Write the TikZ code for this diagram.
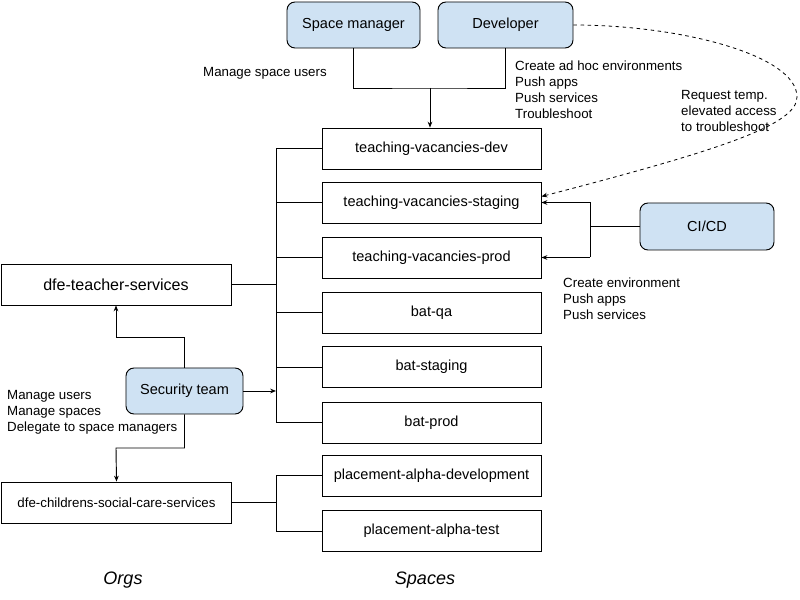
\documentclass[tikz,border=0pt]{standalone}
\usepackage{fontspec}
\setmainfont{Liberation Sans}
\usetikzlibrary{arrows.meta}
\definecolor{rolefill}{HTML}{CFE2F3}
\tikzset{
  box/.style={draw=black, line width=0.8pt, rectangle, inner sep=0pt,
    font=\fontsize{12.4}{14}\selectfont},
  spacebox/.style={box, minimum width=6.57cm, minimum height=1.23cm},
  orgbox/.style={box, minimum width=6.9cm, minimum height=1.23cm},
  rolebox/.style={box, fill=rolefill, rounded corners=0.24cm},
  note/.style={anchor=north west, inner sep=0pt, align=left,
    font=\fontsize{11.35}{13.5}\selectfont},
  caption/.style={font=\fontsize{15.4}{18}\selectfont\itshape},
  link/.style={line width=0.8pt},
  arrowlink/.style={link, -{Stealth[length=5pt,width=4pt]}},
}
\begin{document}
\begin{tikzpicture}[x=0.03cm, y=-0.03cm]
\useasboundingbox (0,0) rectangle (800,600);

% roles
\node[rolebox, minimum width=3.99cm, minimum height=1.38cm] (sm) at (353.5,25) {Space manager};
\node[rolebox, minimum width=4.05cm, minimum height=1.38cm] (dev) at (505.5,25) {Developer};
\node[rolebox, minimum width=3.51cm, minimum height=1.38cm] (sec) at (184.5,391) {Security team};
\node[rolebox, minimum width=4.02cm, minimum height=1.41cm] (ci) at (707,226.5) {CI/CD};

% spaces
\node[spacebox] (tvdev)  at (431.5,148.5) {teaching-vacancies-dev};
\node[spacebox] (tvstg)  at (431.5,202.5) {teaching-vacancies-staging};
\node[spacebox] (tvprod) at (431.5,257.5) {teaching-vacancies-prod};
\node[spacebox] (batqa)  at (431.5,312.5) {bat-qa};
\node[spacebox] (batstg) at (431.5,367)   {bat-staging};
\node[spacebox] (batprod) at (431.5,422.5) {bat-prod};
\node[spacebox] (pad) at (431.5,475.5) {placement-alpha-development};
\node[spacebox] (pat) at (431.5,531)   {placement-alpha-test};

% orgs
\node[orgbox, font=\fontsize{13.7}{16}\selectfont] (dts) at (116,284.5) {dfe-teacher-services};
\node[orgbox, font=\fontsize{11.35}{14}\selectfont] (csc) at (116.5,502.5) {dfe-childrens-social-care-services};

% captions
\node[caption] (orgs) at (123,580) {Orgs};
\node[caption] (spaces) at (425,580) {Spaces};

% notes
\node[note] (smnote) at (203,67) {Manage space users};
\node[note] (devnote) at (515,61) {Create ad hoc environments\\Push apps\\Push services\\Troubleshoot};
\node[note] (reqnote) at (681,90) {Request temp.\\elevated access\\to troubleshoot};
\node[note] (cinote) at (563,278) {Create environment\\Push apps\\Push services};
\node[note] (secnote) at (7,390) {Manage users\\Manage spaces\\Delegate to space managers};

% role access to the dev space
\coordinate (mj) at (430,88);
\draw[link] (sm.south) |- (mj) -| (dev.south);
\draw[arrowlink] (mj) -- (mj |- tvdev.north);

% org to space bus
\coordinate (bx) at (276,0);
\foreach \s in {tvdev,tvstg,tvprod,batqa,batstg,batprod}
  \draw[link] (\s.west) -- (\s.west -| bx);
\draw[link] (tvdev.west -| bx) -- (batprod.west -| bx);
\draw[link] (dts.east) -- (dts.east -| bx);
\draw[link] (csc.east) -- (csc.east -| bx);
\draw[link] (pad.west -| bx) -- (pat.west -| bx);
\draw[link] (pad.west) -- (pad.west -| bx);
\draw[link] (pat.west) -- (pat.west -| bx);

% security team
\coordinate (secup) at (116,337);
\coordinate (secdn) at (116,448);
\draw[arrowlink] (sec.east) -- (sec.east -| bx);
\draw[arrowlink] (sec.north) |- (secup) -- (dts.south);
\draw[arrowlink] (sec.south) |- (secdn) -- (csc.north);

% CI/CD
\coordinate (cx) at (590,0);
\draw[link] (ci.west) -- (ci.west -| cx);
\draw[link] (cx |- tvstg.east) -- (cx |- tvprod.east);
\draw[arrowlink] (cx |- tvstg.east) -- (tvstg.east);
\draw[arrowlink] (cx |- tvprod.east) -- (tvprod.east);

% temporary elevated access
\coordinate (bend) at (797,97);
\draw[link, line width=0.7pt, dashed, -{Stealth[length=5pt,width=4pt]}]
  (dev.east) .. controls (680,25) and (797,55) .. (bend)
  .. controls (797,125) and (720,150) .. ([yshift=0.18cm]tvstg.east);
\end{tikzpicture}
\end{document}
